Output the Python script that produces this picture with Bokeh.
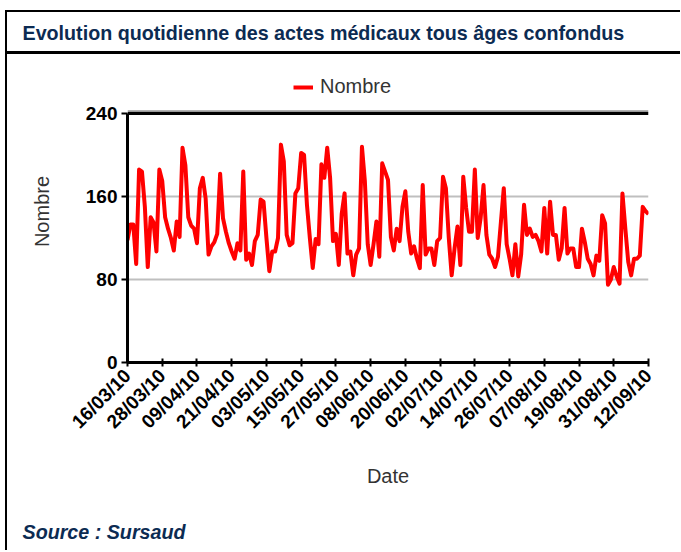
import math
import pandas as pd
from bokeh.plotting import figure
from bokeh.models import (FixedTicker, DatetimeTickFormatter, Legend, LegendItem,
                          Title, Range1d, ColumnDataSource, Span)
from bokeh.embed import file_html
from bokeh.resources import INLINE

# ---------------- data ----------------
title_text = "Evolution quotidienne des actes médicaux tous âges confondus"
source_text = "Source : Sursaud"
series_name = "Nombre"
x_label = "Date"
y_label = "Nombre"
start_date = "2010-03-16"
tick_every_days = 12
y_ticks = [0, 80, 160, 240]
values = [
    118, 133, 133, 95, 186, 184, 150, 92, 140, 135,
    107, 186, 175, 140, 129, 120, 108, 136, 121, 207,
    190, 140, 132, 129, 115, 168, 178, 158, 104, 112,
    116, 124, 182, 139, 126, 115, 107, 100, 115, 108,
    184, 99, 105, 94, 117, 123, 157, 155, 120, 88,
    107, 107, 120, 210, 194, 123, 113, 115, 163, 168,
    202, 200, 152, 120, 91, 119, 114, 191, 178, 207,
    178, 117, 124, 94, 143, 163, 105, 107, 84, 104,
    110, 208, 175, 114, 94, 114, 136, 102, 192, 184,
    176, 121, 108, 129, 117, 150, 165, 126, 105, 112,
    100, 91, 171, 104, 110, 110, 94, 117, 120, 179,
    168, 120, 84, 110, 131, 94, 179, 149, 126, 126,
    186, 120, 139, 171, 123, 104, 100, 92, 102, 135,
    168, 114, 100, 84, 114, 83, 104, 152, 123, 129,
    121, 123, 117, 107, 149, 105, 155, 123, 123, 99,
    110, 149, 105, 110, 110, 92, 92, 129, 116, 100,
    95, 84, 103, 98, 142, 134, 75, 80, 92, 83,
    76, 163, 129, 97, 84, 100, 100, 103, 150, 146,
    143,
]

dates = pd.date_range(start_date, periods=len(values), freq="D")
tick_dates = dates[::tick_every_days]
tick_ms = [int(d.value // 10**6) for d in tick_dates]

src = ColumnDataSource(data=dict(date=dates, value=values))

# ---------------- styles / layout ----------------
FONT = "Liberation Sans"
NAVY = "#0c2b52"
GREY_TXT = "#333333"
W, H = 680, 550
PLOT_LEFT, PLOT_RIGHT = 127, 648       # x pixels of the value axis span
AXIS_TOP, AXIS_BOTTOM = 113, 362       # y pixels of 240 and 0
FRAME_TOP = 60                         # frame extends above 240 to hold the legend
y_top = y_ticks[-1]
y_view_max = y_top * (AXIS_BOTTOM - FRAME_TOP) / (AXIS_BOTTOM - AXIS_TOP)

p = figure(width=W, height=H, output_backend="svg", toolbar_location=None,
           x_axis_type="datetime",
           x_range=Range1d(dates[0], dates[-1]), y_range=Range1d(y_ticks[0], y_view_max),
           min_border_left=PLOT_LEFT, min_border_right=W - PLOT_RIGHT,
           min_border_top=FRAME_TOP, min_border_bottom=H - AXIS_BOTTOM)
p.outline_line_color = None
p.background_fill_color = "white"
p.border_fill_alpha = 0
# decorative box around the whole chart and the line under the title band
p.styles = {
    "background": ("linear-gradient(#000,#000) 5px 10px / 2px 100% no-repeat, "
                   "linear-gradient(#000,#000) 5px 10px / 100% 2px no-repeat, "
                   "linear-gradient(#000,#000) 5px 51px / 100% 3px no-repeat, white"),
}

r = p.line(x="date", y="value", source=src, line_color="#ff0000", line_width=4,
           line_join="round")

# top border of the plotting area (at 240) with its grey shadow
p.add_layout(Span(location=y_top + 2.2, dimension="width", line_color="#9a9a9a", line_width=2))
p.add_layout(Span(location=y_top, dimension="width", line_color="black", line_width=3))

# x axis
xa = p.xaxis[0]
xa.ticker = FixedTicker(ticks=tick_ms)
fmt = "%d/%m/%y"
xa.formatter = DatetimeTickFormatter(microseconds=fmt, milliseconds=fmt, seconds=fmt, minsec=fmt,
                                     minutes=fmt, hourmin=fmt, hours=fmt, days=fmt,
                                     months=fmt, years=fmt)
xa.major_label_orientation = math.pi / 4
xa.major_label_text_font = FONT
xa.major_label_text_font_style = "bold"
xa.major_label_text_font_size = "19px"
xa.major_label_text_color = "black"
xa.major_label_standoff = 6
xa.axis_line_width = 3
xa.axis_line_color = "black"
xa.major_tick_in = 4
xa.major_tick_out = 4
xa.major_tick_line_width = 2
xa.major_tick_line_color = "black"
xa.minor_tick_line_color = None
xa.axis_label = x_label
xa.axis_label_text_font = FONT
xa.axis_label_text_font_style = "normal"
xa.axis_label_text_font_size = "20px"
xa.axis_label_text_color = GREY_TXT
xa.axis_label_standoff = 22

# y axis
ya = p.yaxis[0]
ya.ticker = FixedTicker(ticks=y_ticks)
ya.bounds = (y_ticks[0], y_top)
ya.major_label_text_font = FONT
ya.major_label_text_font_style = "bold"
ya.major_label_text_font_size = "19px"
ya.major_label_text_color = "black"
ya.major_label_standoff = 4
ya.axis_line_width = 3
ya.axis_line_color = "black"
ya.major_tick_in = 0
ya.major_tick_out = 6
ya.major_tick_line_width = 2
ya.minor_tick_line_color = None
ya.axis_label = y_label
ya.axis_label_text_font = FONT
ya.axis_label_text_font_style = "normal"
ya.axis_label_text_font_size = "20px"
ya.axis_label_text_color = GREY_TXT
ya.axis_label_standoff = 30

p.xgrid.grid_line_color = None
p.ygrid.ticker = FixedTicker(ticks=y_ticks[1:-1])
p.ygrid.grid_line_color = "#bfbfbf"
p.ygrid.grid_line_width = 2

# legend (inside the extended frame, above the 240 line)
legend = Legend(items=[LegendItem(label=series_name, renderers=[r])],
                location=(166, AXIS_BOTTOM - 98), orientation="horizontal",
                padding=0, margin=0, spacing=0, glyph_width=20, glyph_height=20,
                label_height=20, label_standoff=7,
                border_line_alpha=0, background_fill_alpha=0,
                label_text_font=FONT, label_text_font_size="20px", label_text_color=GREY_TXT)
p.add_layout(legend)

# title
p.title.text = title_text
p.title.align = "left"
p.title.offset = 22 - PLOT_LEFT
p.title.text_font = FONT
p.title.text_font_style = "bold"
p.title.text_font_size = "19.7px"
p.title.text_color = NAVY
p.title.standoff = 34

# source caption under the chart
src_title = Title(text=source_text, align="left", offset=22 - PLOT_LEFT, text_font=FONT,
                  text_font_style="bold italic", text_font_size="19.7px", text_color=NAVY,
                  vertical_align="bottom", standoff=0,
                  padding=dict(top=29, right=0, bottom=0, left=0))
p.add_layout(src_title, "below")

open("out.html", "w").write(file_html(p, INLINE))
